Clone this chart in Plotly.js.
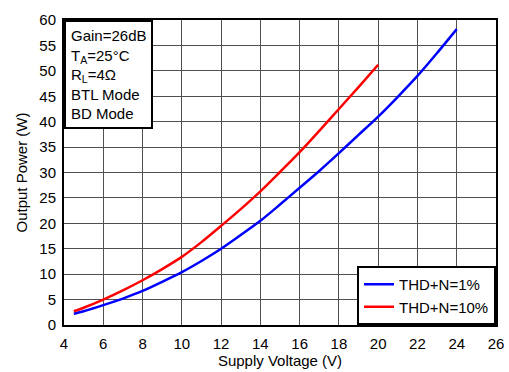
<!DOCTYPE html>
<html><head><meta charset="utf-8">
<script src="https://cdn.plot.ly/plotly-3.0.1.min.js"></script>
<style>html,body{margin:0;padding:0;background:#fff;}#chart{width:509px;height:372px;}</style>
</head><body><div id="chart"></div>
<script>
const voltage1 = [4.5, 5, 6, 7, 8, 9, 10, 11, 12, 13, 14, 15, 16, 17, 18, 19, 20, 21, 22, 23, 24];
const power1 = [2.2, 2.7, 3.9, 5.2, 6.7, 8.5, 10.4, 12.6, 15.0, 17.7, 20.5, 23.7, 27.0, 30.3, 33.8, 37.4, 41.0, 44.9, 49.0, 53.5, 58.2];
const voltage10 = [4.5, 5, 6, 7, 8, 9, 10, 11, 12, 13, 14, 15, 16, 17, 18, 19, 20];
const power10 = [2.7, 3.4, 5.0, 6.8, 8.8, 11.0, 13.4, 16.3, 19.5, 22.8, 26.3, 30.1, 34.0, 38.2, 42.5, 46.8, 51.2];
const seriesNames = ["THD+N=1%", "THD+N=10%"];
const infoLines = ["Gain=26dB", "T<sub>A</sub>=25°C", "R<sub>L</sub>=4Ω", "BTL Mode", "BD Mode"];

const font = {family: "Liberation Sans, Arial, sans-serif", size: 15, color: "#000"};
const traces = [
  {x: voltage1, y: power1, name: seriesNames[0], mode: "lines", line: {color: "#0000ff", width: 2.5, shape: "spline", smoothing: 0.8}},
  {x: voltage10, y: power10, name: seriesNames[1], mode: "lines", line: {color: "#ff0000", width: 2.5, shape: "spline", smoothing: 0.8}}
];
const axisCommon = {
  showgrid: true, gridcolor: "#505050", gridwidth: 1,
  showline: true, linecolor: "#000", linewidth: 2, mirror: true,
  zeroline: false, ticks: "", tickfont: font
};
const layout = {
  width: 509, height: 372,
  margin: {l: 64, r: 13, t: 20, b: 47},
  paper_bgcolor: "#fff", plot_bgcolor: "#fff",
  font: font,
  xaxis: Object.assign({}, axisCommon, {range: [4, 26], dtick: 2, tick0: 4, ticklabelstandoff: 4,
    title: {text: "Supply Voltage (V)", font: font, standoff: 4}}),
  yaxis: Object.assign({}, axisCommon, {range: [0, 60], dtick: 5, tick0: 0, ticklabelstandoff: 3,
    title: {text: "Output Power (W)", font: font, standoff: 8}}),
  showlegend: true,
  legend: {x: 1, y: 0, xanchor: "right", yanchor: "bottom", bgcolor: "#fff",
    bordercolor: "#000", borderwidth: 2, font: font, tracegroupgap: 0, itemwidth: 30},
  annotations: [{
    xref: "paper", yref: "paper", x: 0, y: 1, xanchor: "left", yanchor: "top",
    text: infoLines.join("<br>"), align: "left", showarrow: false,
    bgcolor: "#fff", bordercolor: "#000", borderwidth: 2, borderpad: 5, font: font
  }]
};
Plotly.newPlot("chart", traces, layout, {displayModeBar: false, staticPlot: true});
</script></body></html>
